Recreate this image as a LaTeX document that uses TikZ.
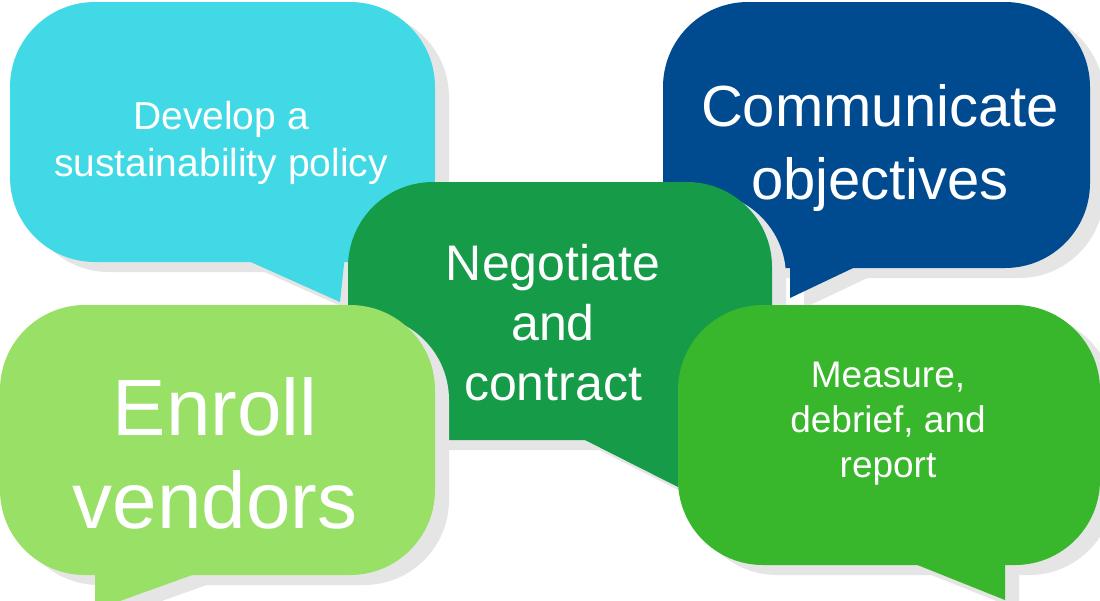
\documentclass[tikz,border=0pt]{standalone}
\usepackage{fontspec}
\setmainfont{Liberation Sans}
\definecolor{cyanb}{RGB}{66,217,230}
\definecolor{blueb}{RGB}{0,74,143}
\definecolor{greenb}{RGB}{22,155,72}
\definecolor{lightb}{RGB}{152,224,102}
\definecolor{midb}{RGB}{56,182,44}
\definecolor{shade}{RGB}{229,229,229}
\tikzset{lbl/.style={text=white,align=center},
  shd/.style={fill=shade,draw=none}}
\begin{document}
\begin{tikzpicture}[x=1pt,y=-1pt]
\useasboundingbox (0,0) rectangle (1100,600);
\fill[white] (0,0) rectangle (1100,600);
% B1
\path[shd,rounded corners=85] (24,12) rectangle (449,272);
\path[shd] (249,265) -- (354,312) -- (359,265) -- cycle;
\fill[cyanb,rounded corners=85] (10,2) rectangle (435,262);
\fill[cyanb] (235,255) -- (340,302) -- (345,255) -- cycle;
\node[lbl,font=\fontsize{39}{47}\selectfont] (b1) at (221,143) {Develop a\\sustainability policy};
% B2
\path[shd,rounded corners=85] (677,12) rectangle (1104,278);
\path[shd] (804,270) -- (804,308) -- (884,270) -- cycle;
\fill[blueb,rounded corners=85] (663,2) rectangle (1090,268);
\fill[blueb] (790,260) -- (790,298) -- (870,260) -- cycle;
\node[lbl,font=\fontsize{58}{73}\selectfont] (b2) at (880,148) {Communicate\\objectives};
% B3
\path[shd,rounded corners=85] (362,192) rectangle (786,450);
\path[shd] (589,445) -- (692,497) -- (692,445) -- cycle;
\fill[greenb,rounded corners=85] (348,182) rectangle (772,440);
\fill[greenb] (575,435) -- (678,487) -- (678,435) -- cycle;
\node[lbl,font=\fontsize{50}{60}\selectfont] (b3) at (553,323) {Negotiate\\and\\contract};
% B4
\path[shd,rounded corners=85] (14,315) rectangle (449,585);
\path[shd] (109,575) -- (109,620) -- (234,575) -- cycle;
\fill[lightb,rounded corners=85] (0,305) rectangle (435,575);
\fill[lightb] (95,565) -- (95,610) -- (220,565) -- cycle;
\node[lbl,font=\fontsize{80}{93}\selectfont] (b4) at (215,453) {Enroll\\vendors};
% B5
\path[shd,rounded corners=85] (692,315) rectangle (1114,575);
\path[shd] (919,570) -- (1019,610) -- (1019,570) -- cycle;
\fill[midb,rounded corners=85] (678,305) rectangle (1100,565);
\fill[midb] (905,560) -- (1005,600) -- (1005,560) -- cycle;
\node[lbl,font=\fontsize{37}{45}\selectfont] (b5) at (888,424) {Measure,\\debrief, and\\report};
\end{tikzpicture}
\end{document}
